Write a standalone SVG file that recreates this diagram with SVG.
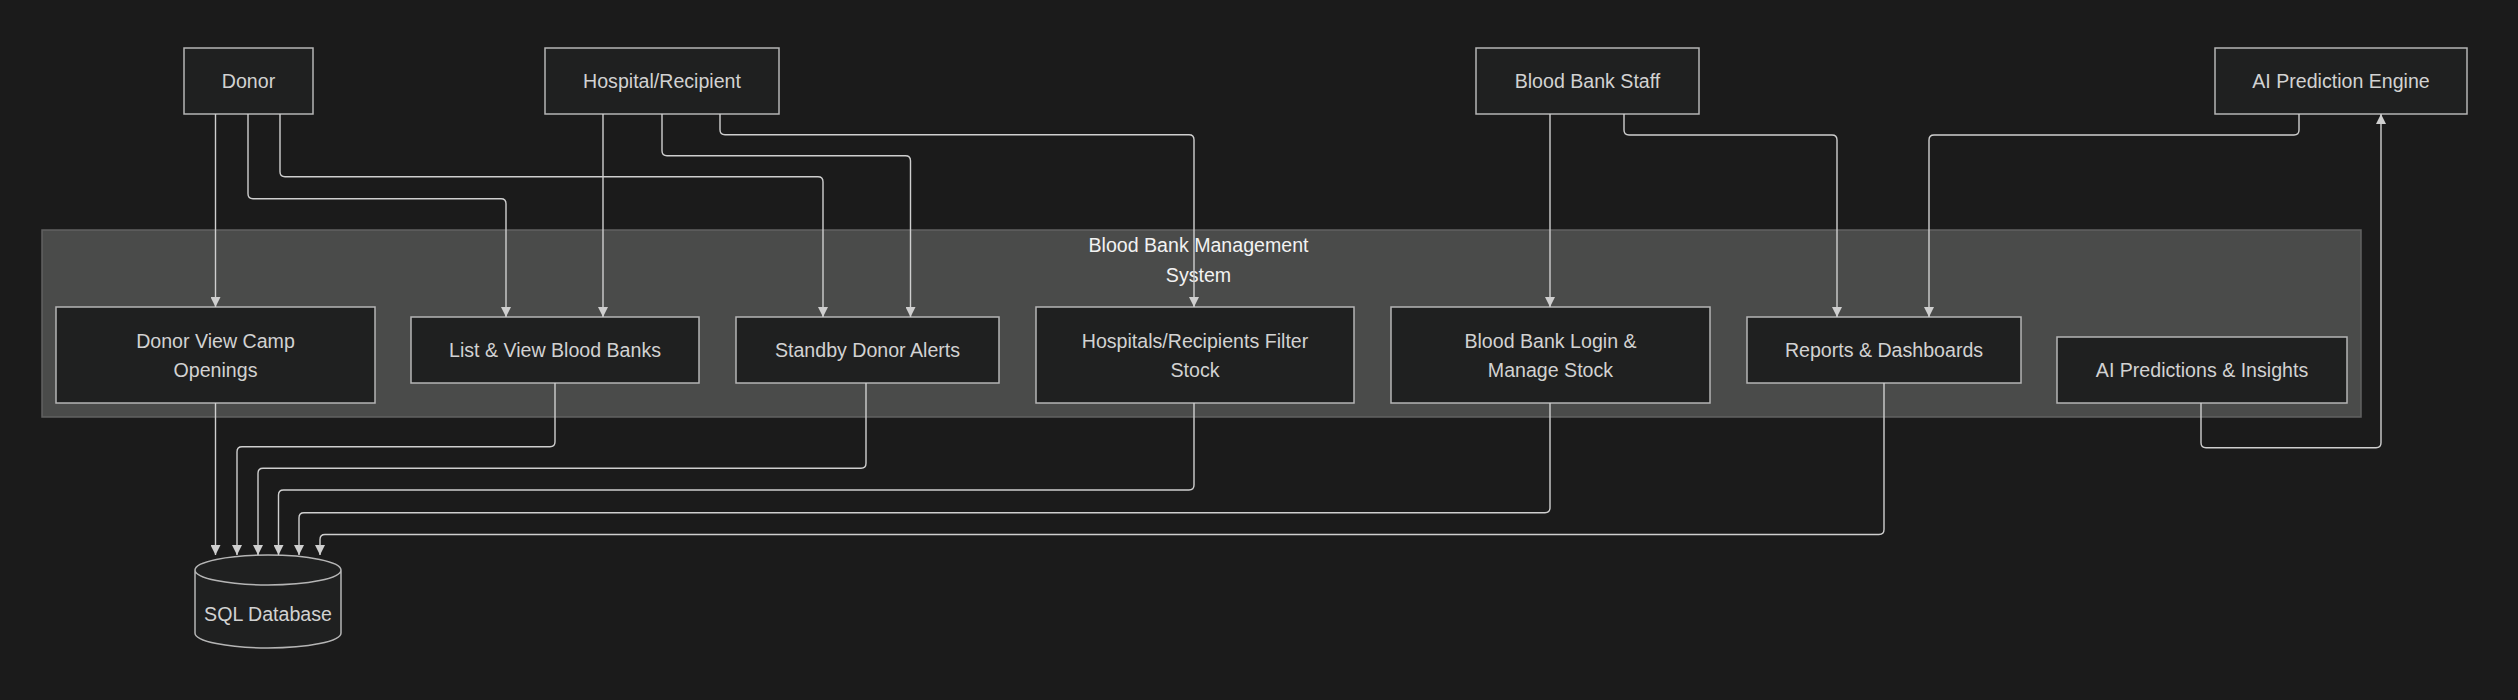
<svg xmlns="http://www.w3.org/2000/svg" width="2518" height="700" viewBox="0 0 2518 700">
<defs>
<style>
.node rect, .node path { fill: #1f2020; stroke: #b5b5b5; stroke-width: 1.5; }
.node text { fill: #d2d2d2; font-family: "Liberation Sans", Arial, sans-serif; font-size: 19.6px; text-anchor: middle; }
.cluster rect { fill: #4a4b4a; stroke: #626262; stroke-width: 1.5; }
.cluster text { fill: #f2f2f2; font-family: "Liberation Sans", Arial, sans-serif; font-size: 19.6px; text-anchor: middle; }
.edges path { fill: none; stroke: #cfcfcf; stroke-width: 1.4; marker-end: url(#arrow); }
</style>
<marker id="arrow" markerUnits="userSpaceOnUse" viewBox="0 0 10 10" markerWidth="10" markerHeight="10" refX="10" refY="5" orient="auto">
<path d="M0,0 L10,5 L0,10 z" fill="#cfcfcf"/>
</marker>
</defs>
<rect x="0" y="0" width="2518" height="700" fill="#1b1b1b"/>

<g id="cluster-bbms" class="cluster">
<rect x="42" y="230" width="2319" height="187"/>
<text x="1198.5" y="251.7">Blood Bank Management</text>
<text x="1198.5" y="282.3">System</text>
</g>

<g id="donor" class="node"><rect x="184" y="48" width="129" height="66"/><text x="248.5" y="87.7">Donor</text></g>
<g id="hospital" class="node"><rect x="545" y="48" width="234" height="66"/><text x="662" y="87.7">Hospital/Recipient</text></g>
<g id="staff" class="node"><rect x="1476" y="48" width="223" height="66"/><text x="1587.5" y="87.7">Blood Bank Staff</text></g>
<g id="engine" class="node"><rect x="2215" y="48" width="252" height="66"/><text x="2341" y="87.7">AI Prediction Engine</text></g>

<g id="camp" class="node"><rect x="56" y="307" width="319" height="96"/><text x="215.5" y="348">Donor View Camp</text><text x="215.5" y="377">Openings</text></g>
<g id="list" class="node"><rect x="411" y="317" width="288" height="66"/><text x="555" y="356.7">List &amp; View Blood Banks</text></g>
<g id="standby" class="node"><rect x="736" y="317" width="263" height="66"/><text x="867.5" y="356.7">Standby Donor Alerts</text></g>
<g id="filter" class="node"><rect x="1036" y="307" width="318" height="96"/><text x="1195" y="348">Hospitals/Recipients Filter</text><text x="1195" y="377">Stock</text></g>
<g id="login" class="node"><rect x="1391" y="307" width="319" height="96"/><text x="1550.5" y="348">Blood Bank Login &amp;</text><text x="1550.5" y="377">Manage Stock</text></g>
<g id="reports" class="node"><rect x="1747" y="317" width="274" height="66"/><text x="1884" y="356.7">Reports &amp; Dashboards</text></g>
<g id="insights" class="node"><rect x="2057" y="337" width="290" height="66"/><text x="2202" y="376.7">AI Predictions &amp; Insights</text></g>

<g id="sqldb" class="node">
<path d="M195,570 A73,15 0 0,0 341,570 A73,15 0 0,0 195,570 L195,633 A73,15 0 0,0 341,633 L341,570"/>
<text x="268" y="620.7">SQL Database</text>
</g>

<g id="edges" class="edges">
<path d="M215.5,114 V307"/>
<path d="M248,114 V193.7 Q248,198.7 253,198.7 H501 Q506,198.7 506,203.7 V317"/>
<path d="M280,114 V171.7 Q280,176.7 285,176.7 H818 Q823,176.7 823,181.7 V317"/>
<path d="M603,114 V317"/>
<path d="M662,114 V150.7 Q662,155.7 667,155.7 H905.5 Q910.5,155.7 910.5,160.7 V317"/>
<path d="M720,114 V129.7 Q720,134.7 725,134.7 H1189 Q1194,134.7 1194,139.7 V307"/>
<path d="M1550,114 V307"/>
<path d="M1624,114 V130 Q1624,135 1629,135 H1832 Q1837,135 1837,140 V317"/>
<path d="M2299,114 V130 Q2299,135 2294,135 H1934 Q1929,135 1929,140 V317"/>
<path d="M2201,403 V442.7 Q2201,447.7 2206,447.7 H2376 Q2381,447.7 2381,442.7 V114"/>
<path d="M215.5,403 V555"/>
<path d="M555,383 V441.7 Q555,446.7 550,446.7 H242 Q237,446.7 237,451.7 V555"/>
<path d="M866,383 V463.3 Q866,468.3 861,468.3 H263 Q258,468.3 258,473.3 V555"/>
<path d="M1194,403 V485 Q1194,490 1189,490 H283.5 Q278.5,490 278.5,495 V555"/>
<path d="M1550,403 V507.7 Q1550,512.7 1545,512.7 H304 Q299,512.7 299,517.7 V555"/>
<path d="M1884,383 V529.5 Q1884,534.5 1879,534.5 H325 Q320,534.5 320,539.5 V555"/>
</g>
</svg>
